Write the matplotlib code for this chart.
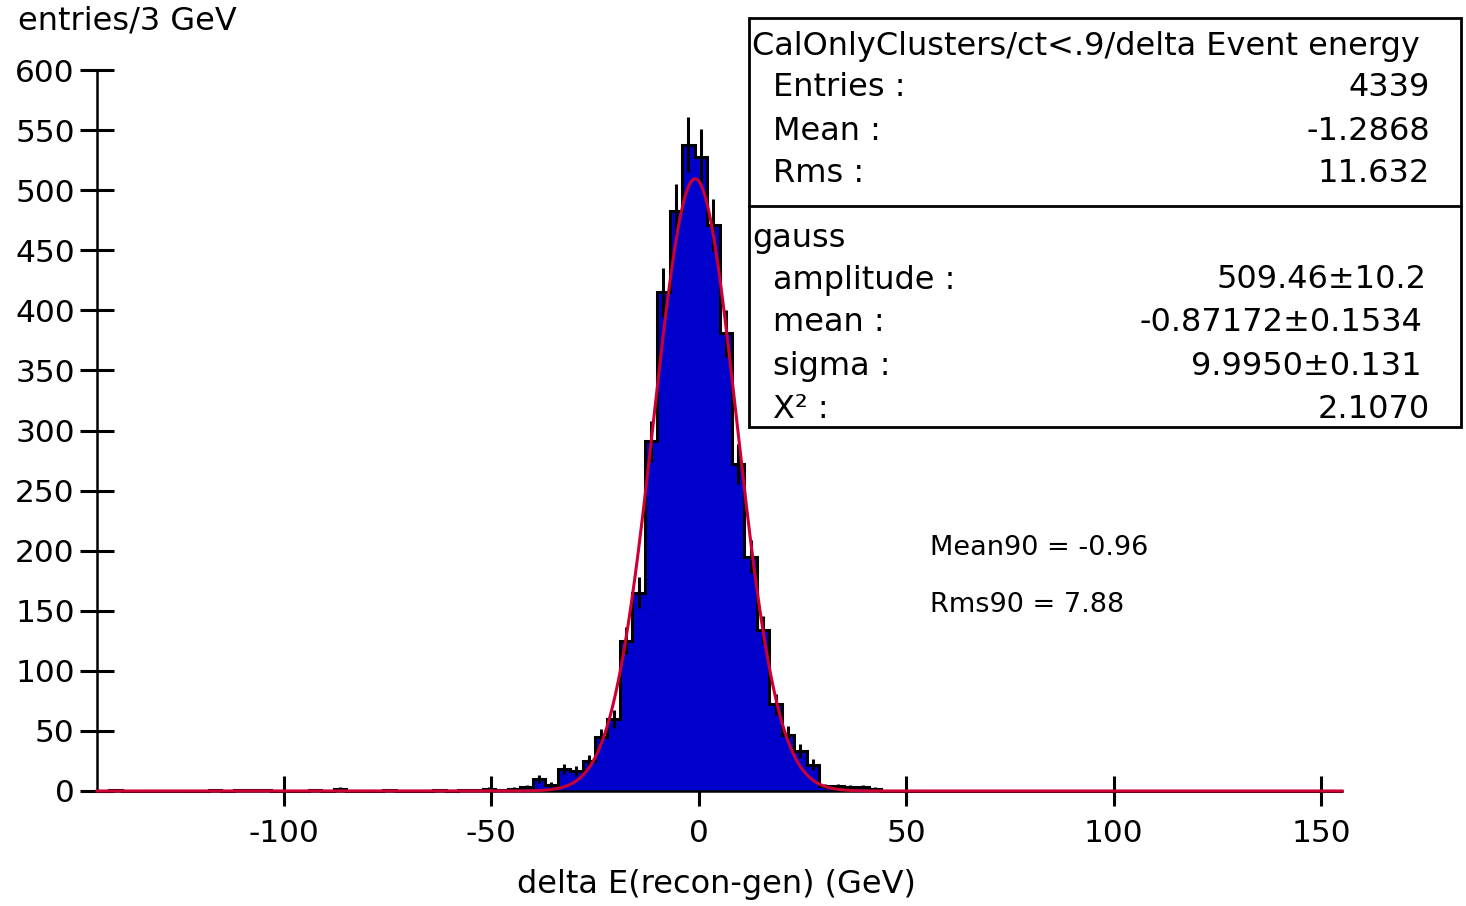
import numpy as np
import matplotlib
matplotlib.use('Agg')
import matplotlib.pyplot as plt
from matplotlib.patches import Rectangle

plt.rcParams['font.family'] = ['DejaVu Sans']
plt.rcParams['axes.unicode_minus'] = False

# histogramme: 100 bins de 3 GeV entre -145 et 155
x_min = -145
bin_width = 3
counts = [
    0, 1, 0, 0, 0, 0, 0, 0, 0, 1,
    0, 1, 1, 1, 0, 0, 0, 1, 0, 2,
    0, 0, 0, 1, 0, 0, 0, 1, 0, 1,
    1, 2, 1, 2, 3, 10, 5, 18, 17, 25,
    45, 60, 125, 165, 291, 415, 483, 538, 528, 471,
    381, 272, 195, 134, 72, 47, 33, 22, 4, 4,
    3, 3, 2, 0, 0, 0, 0, 0, 0, 0,
    0, 0, 0, 0, 0, 0, 0, 0, 0, 0,
    0, 0, 0, 0, 0, 0, 0, 0, 0, 0,
    0, 0, 0, 0, 0, 0, 0, 0, 0, 0,
]

# parametres du fit gaussien (boite de stats)
fit_amplitude = 509.46
fit_mean = -0.87172
fit_sigma = 9.9950

stats_title = 'CalOnlyClusters/ct<.9/delta Event energy'
stats_rows = [('Entries :', '4339'), ('Mean :', '-1.2868'), ('Rms :', '11.632')]
fit_rows = [('amplitude :', '509.46±10.2'), ('mean :', '-0.87172±0.1534'),
            ('sigma :', '9.9950±0.131'), ('Χ² :', '2.1070')]

W, H = 1466, 906
FS = 23


def fx(p):
    return p / W


def fy(p):
    return 1 - p / H


counts = np.array(counts, dtype=float)
edges = x_min + bin_width * np.arange(len(counts) + 1)
centers = edges[:-1] + bin_width / 2

fig = plt.figure(figsize=(W / 100, H / 100), dpi=100)
ax = fig.add_axes([fx(97), fy(791), fx(1342) - fx(97), fy(70) - fy(791)])

ax.stairs(counts, edges, fill=True, color='#0000cc', zorder=2)
nz = counts > 0
ax.errorbar(centers[nz], counts[nz], yerr=np.sqrt(counts[nz]), fmt='none',
            ecolor='black', elinewidth=2.2, capsize=0, zorder=3)
ax.stairs(counts, edges, color='black', linewidth=2.2, zorder=4, clip_on=False)

xs = np.linspace(edges[0], edges[-1], 1500)
gauss = fit_amplitude * np.exp(-0.5 * ((xs - fit_mean) / fit_sigma) ** 2)
ax.plot(xs, gauss, color='#cc0033', linewidth=2.2, zorder=5, clip_on=False)

ax.set_xlim(edges[0], edges[-1])
ax.set_ylim(0, 600)
ax.set_xticks([-100, -50, 0, 50, 100, 150])
ax.set_yticks(np.arange(0, 601, 50))
for s in ['top', 'right']:
    ax.spines[s].set_visible(False)
for s in ['left', 'bottom']:
    ax.spines[s].set_linewidth(1.8)
ax.tick_params(axis='y', direction='inout', length=24, width=2.2, labelsize=22.5, pad=4)
ax.tick_params(axis='x', direction='inout', length=21, width=2.2, labelsize=22.5, pad=10)

fig.text(fx(18), fy(21), 'entries/3 GeV', fontsize=FS, ha='left', va='center')
fig.text(fx(716), fy(885), 'delta E(recon-gen) (GeV)', fontsize=FS, ha='center', va='center')

# boite de statistiques
fig.add_artist(Rectangle((fx(749), fy(427)), fx(1461) - fx(749), fy(18) - fy(427),
                         transform=fig.transFigure, fill=True, facecolor='white',
                         edgecolor='black', linewidth=2, zorder=10))
fig.add_artist(plt.Line2D([fx(749), fx(1461)], [fy(206), fy(206)],
                          transform=fig.transFigure, color='black', linewidth=2, zorder=11))
fig.text(fx(752), fy(46), stats_title, fontsize=FS, ha='left', va='center', zorder=12)
for k, (lab, val) in enumerate(stats_rows):
    y = 88 + 43 * k
    fig.text(fx(773), fy(y), lab, fontsize=FS, ha='left', va='center', zorder=12)
    fig.text(fx(1430), fy(y), val, fontsize=FS, ha='right', va='center', zorder=12)
fig.text(fx(752), fy(239), 'gauss', fontsize=FS, ha='left', va='center', zorder=12)
right_edges = [1427, 1422, 1422, 1430]
for k, (lab, val) in enumerate(fit_rows):
    y = 280 + 43 * k
    fig.text(fx(773), fy(y), lab, fontsize=FS, ha='left', va='center', zorder=12)
    fig.text(fx(right_edges[k]), fy(y), val, fontsize=FS, ha='right', va='center', zorder=12)

fig.text(fx(930), fy(548), 'Mean90 = -0.96', fontsize=19.5, ha='left', va='center')
fig.text(fx(930), fy(605), 'Rms90 = 7.88', fontsize=19.5, ha='left', va='center')

fig.savefig('out.png', dpi=100)
